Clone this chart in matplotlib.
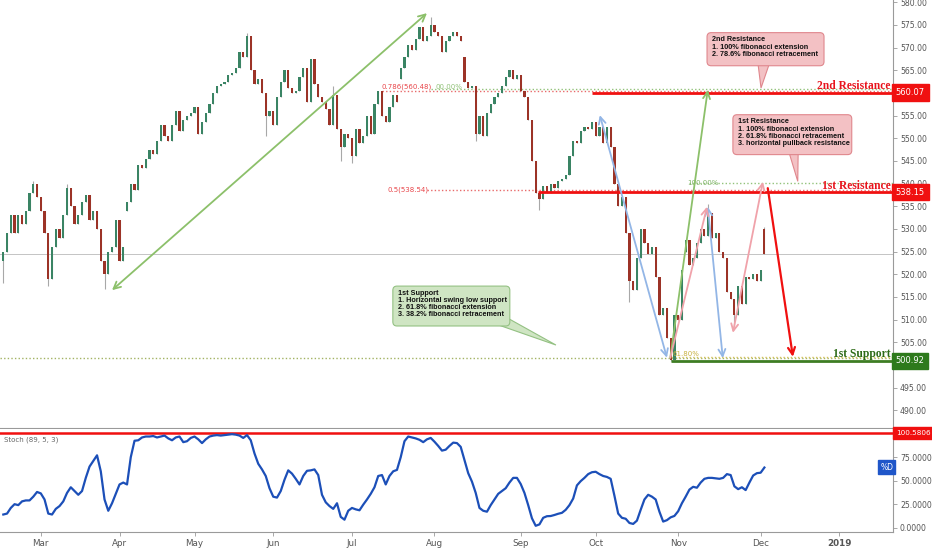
import matplotlib
matplotlib.use("Agg")
import matplotlib.pyplot as plt
from matplotlib.patches import FancyBboxPatch, Polygon
import numpy as np

# daily closes (bar index 0 = mid Feb 2018, last bar = 3 Dec 2018)
closes = [
    525, 529, 533, 529, 533, 531, 534, 538, 540, 537,
    534, 529, 519, 526, 530, 528, 533, 539, 535, 531,
    533, 536, 537.5, 532, 534, 530, 523, 520, 525, 526,
    532, 523, 526, 536, 540, 538.5, 544, 543.5, 545.5, 547.5,
    546.5, 549.5, 553, 550.5, 549.5, 553, 556, 551.5, 554, 555,
    555.5, 557, 551, 553.5, 555.5, 557.5, 560, 561.5, 562, 562.5,
    564, 564.5, 565.5, 569, 568, 572.5, 565, 562, 563, 560,
    555, 556, 553, 559, 562.5, 565, 561, 560, 560.5, 563.5,
    565.5, 558, 567.5, 562, 559, 558, 556.5, 553, 559.5, 552,
    548, 551, 550, 546, 552, 549, 550.5, 555, 551, 557.5,
    560.5, 555, 553.5, 557, 559.5, 558, 565.5, 568, 570.5, 569.5,
    572, 574.5, 571.5, 572.5, 575, 573.5, 572.5, 569, 571.5, 572.5,
    573.5, 572.5, 571.5, 562.5, 561, 561.5, 551, 555, 550.5, 555.5,
    557.5, 559, 560, 561.5, 563.5, 565, 563, 564, 560.5, 559,
    554, 545, 538, 536.5, 539.5, 538, 540, 539, 540.5, 541,
    542, 546, 549.5, 549, 551.5, 552.5, 552, 553.5, 550.5, 552.5,
    549, 552.5, 548, 540, 535, 537, 529, 518.5, 516.5, 523.5,
    530, 527, 524.5, 526, 519.5, 511, 512.5, 506, 501, 511,
    510, 521, 527.5, 522, 523.5, 527, 530, 528.5, 533.5, 528,
    529, 525, 523.5, 516, 514.5, 511, 517.5, 513.5, 519.5, 519,
    520, 518.5, 521, 524.5,
]

# Stoch(89, 5, 3) %D per bar
stoch_d = [
    14, 15, 21, 25, 24, 28, 29, 29, 33, 38,
    36.5, 30, 15, 14, 20, 23, 28, 37, 43, 39,
    35, 39, 53, 65, 71, 77, 60, 30, 18, 26,
    36, 46, 48, 46, 75, 92.5, 93, 96, 97, 97,
    97.5, 96, 97, 98, 95, 93, 96, 97, 91, 92,
    95.5, 97, 94, 90, 94, 97, 98, 98.5, 98, 98.5,
    99, 99.5, 99, 98, 95.5, 98.5, 93, 79, 68, 62,
    55, 42, 33, 32, 39, 51, 61, 57.5, 52, 46,
    55, 60.5, 61, 62, 56, 35, 27, 23, 20, 26,
    11.5, 8.5, 18, 21, 19.5, 18.5, 24.5, 30, 36, 43,
    55, 56, 46, 55, 60, 61.5, 75, 92, 97, 96,
    95, 93.5, 91, 94, 95.5, 91.5, 87, 82, 83, 87,
    90.5, 90, 86, 72, 58, 49, 37, 21, 18, 17,
    24, 30, 36, 39, 42, 48, 53, 53, 46.5, 37,
    24, 10, 2, 3.5, 10.5, 12.2, 12.4, 13.5, 14.8, 15.8,
    19, 24, 31, 45, 49.5, 53, 57, 59, 59.5, 57,
    55, 54, 52, 34, 15, 10.5, 9.5, 5, 4, 7.5,
    19, 30, 35, 33, 30, 17, 6.5, 8, 11, 12.5,
    17.5, 26, 33, 40.5, 43.5, 42.5, 48, 52, 53, 53,
    52.5, 52, 53, 57, 56, 44, 41, 43, 40, 48,
    55.5, 58, 58.5, 64,
]

# opens that gap away from the previous close
gap_opens = {0: 523.0, 33: 534.0, 106: 563.0, 123: 568.0, 182: 525.0, 203: 530.0}
# visible long wicks
wick_highs = {8: 540.5, 17: 540.0, 65: 573.3, 88: 561.5, 114: 576.8, 188: 535.5, 203: 530.5}
wick_lows = {0: 518.0, 12: 517.5, 27: 516.8, 70: 550.5, 90: 545.0, 93: 544.5,
             126: 549.5, 143: 534.2, 167: 514.0, 178: 500.9, 195: 508.5}

month_labels = ["Mar", "Apr", "May", "Jun", "Jul", "Aug", "Sep", "Oct", "Nov", "Dec", "2019"]
month_bars = [10, 31, 51, 72, 93, 115, 138, 158, 180, 202, 223]
price_ticks = list(range(490, 581, 5))
hidden_ticks = [500, 560]          # covered by the level tags
stoch_ticks = [0, 25, 50, 75]

# key levels
res_2, fib_786, ext_100_hi = 560.07, 560.48, 560.8
res_1, fib_50, ext_100_lo = 538.15, 538.54, 540.2
sup_1, fib_618 = 500.92, 501.5
stoch_max = 100.5806

# drawn arrows: (bar, price) -> (bar, price), style, colour
arrows = [
    ((29.0, 516.5), (113.0, 577.6), "<->", "#8cc06a"),
    ((177.9, 501.6), (187.9, 560.7), "->", "#8cc06a"),
    ((159.1, 555.1), (177.0, 501.6), "<->", "#93b6e6"),
    ((187.9, 534.9), (191.9, 501.5), "<->", "#93b6e6"),
    ((177.9, 501.6), (187.7, 534.9), "->", "#f0a2aa"),
    ((194.6, 507.1), (202.6, 540.4), "<->", "#f0a2aa"),
    ((203.9, 539.0), (210.6, 501.8), "->", "#f01010"),
]

GREEN, RED, WICK = "#3a8464", "#9c3327", "#a8a8a8"
GRID_TXT = "#555555"

fig = plt.figure(figsize=(9.32, 5.5), dpi=100)
ax = fig.add_axes([0, 1 - 428 / 550, 893 / 932, 428 / 550])
sx = fig.add_axes([0, 1 - 532 / 550, 893 / 932, 103 / 550], sharex=ax)

n = len(closes)
bars = np.arange(n)
opens = [gap_opens.get(i, closes[i - 1] if i else closes[0]) for i in range(n)]
tops = [max(o, c) for o, c in zip(opens, closes)]
bots = [min(o, c) for o, c in zip(opens, closes)]
highs = [max(wick_highs.get(i, t), t) for i, t in enumerate(tops)]
lows = [min(wick_lows.get(i, b), b) for i, b in enumerate(bots)]
colors = [GREEN if c >= o else RED for o, c in zip(opens, closes)]

ax.vlines(bars, lows, highs, color=WICK, lw=0.8, zorder=2)
ax.bar(bars, [max(t - b, 0.35) for t, b in zip(tops, bots)], bottom=bots,
       width=0.58, color=colors, linewidth=0, zorder=3)

ax.set_xlim(-0.88, 237.3)
ax.set_ylim(486.1, 580.5)

# last price line
ax.axhline(closes[-1], color="#c4c4c4", lw=0.7, zorder=1)

dot = (0, (1, 1.6))
# 2nd resistance
ax.hlines(fib_786, 101, 237.3, color="#e86a6a", lw=1, linestyle=dot, zorder=2)
ax.hlines(ext_100_hi, 114, 237.3, color="#92c27a", lw=1, linestyle=dot, zorder=2)
ax.hlines(res_2, 157, 237.3, color="#f01010", lw=2, zorder=4)
# 1st resistance
ax.hlines(fib_50, 113, 237.3, color="#e86a6a", lw=1, linestyle=dot, zorder=2)
ax.hlines(ext_100_lo, 183, 237.3, color="#92c27a", lw=1, linestyle=dot, zorder=2)
ax.hlines(res_1, 142.6, 237.3, color="#f01010", lw=2, zorder=4)
# 1st support
ax.hlines(fib_618, -0.88, 237.3, color="#a3b363", lw=1, linestyle=dot, zorder=2)
ax.hlines(fib_618 + 0.3, 178, 237.3, color="#d6c25a", lw=1, linestyle=dot, zorder=2)
ax.hlines(sup_1, 178, 237.3, color="#3e7d24", lw=2, zorder=4)

small = dict(fontsize=5, zorder=5)
ax.text(101, fib_786 + 0.2, "0.786(560.48)", color="#e8464a", va="bottom", **small)
ax.text(115.2, fib_786 + 0.2, "00.00%", color="#92c27a", va="bottom", **small)
ax.text(102.5, fib_50, "0.5(538.54)", color="#e8464a", va="center", **small)
ax.text(182.5, ext_100_lo, "100.00%", color="#7fb466", va="center", **small)
ax.text(178.5, fib_618 + 0.3, "61.80%", color="#c8b040", va="bottom", **small)

for (x0, y0), (x1, y1), style, col in arrows:
    ax.annotate("", xy=(x1, y1), xytext=(x0, y0),
                arrowprops=dict(arrowstyle=f"{style},head_length=0.5,head_width=0.25",
                                color=col, lw=1.6 if col == "#f01010" else 1.3,
                                shrinkA=0, shrinkB=0), zorder=6)

serif = dict(family=["Liberation Serif", "DejaVu Serif"], fontweight="bold", fontsize=8.3,
             ha="right", va="bottom", zorder=7)
ax.text(236.6, res_2 + 0.1, "2nd Resistance", color="#e8141c", **serif)
ax.text(236.6, res_1 + 0.1, "1st Resistance", color="#e8141c", **serif)
ax.text(236.6, sup_1 + 0.1, "1st Support", color="#2c6a16", **serif)


def callout(x0, x1, y0, y1, ptr, lines, fc, ec):
    ax.add_patch(Polygon(ptr, closed=True, fc=fc, ec=ec, lw=0.8, zorder=7))
    box = FancyBboxPatch((x0, y0), x1 - x0, y1 - y0,
                         boxstyle="round,pad=0,rounding_size=1.1",
                         mutation_aspect=0.83, fc=fc, ec=ec, lw=0.8, zorder=8)
    ax.add_patch(box)
    ax.text(x0 + 1.3, y1 - 0.8, "\n".join(lines), fontsize=5.2, fontweight="bold",
            family=["Liberation Sans", "DejaVu Sans"], color="#111111",
            va="top", ha="left", linespacing=1.05, zorder=9)


callout(187.7, 218.9, 566.0, 573.3,
        [(201.3, 566.4), (204.3, 566.4), (202.1, 561.1)],
        ["2nd Resistance", "1. 100% fibonacci extension", "2. 78.6% fibonacci retracement"],
        "#f3c1c4", "#e0878d")
callout(194.6, 226.3, 546.4, 555.2,
        [(209.6, 546.8), (212.0, 546.8), (211.9, 540.5)],
        ["1st Resistance", "1. 100% fibonacci extension", "2. 61.8% fibonacci retracement",
         "3. horizontal pullback resistance"],
        "#f3c1c4", "#e0878d")
callout(103.9, 135.1, 508.6, 517.4,
        [(131.8, 508.9), (134.6, 510.3), (147.4, 504.4)],
        ["1st Support", "1. Horizontal swing low support", "2. 61.8% fibonacci extension",
         "3. 38.2% fibonacci retracement"],
        "#cfe5c3", "#94c183")


def tag(axis, y, text, color, size=6):
    axis.annotate(text, xy=(1, y), xycoords=axis.get_yaxis_transform(),
                  xytext=(2.0, 0), textcoords="offset points", ha="left", va="center",
                  fontsize=size, color="white", annotation_clip=False, zorder=12,
                  bbox=dict(boxstyle="square,pad=0.45", fc=color, ec=color))


tag(ax, res_2, "560.07", "#f01010")
tag(ax, res_1, "538.15", "#f01010")
tag(ax, sup_1, "500.92", "#2e7a1c")

for a in (ax, sx):
    a.set_facecolor("white")
    a.yaxis.tick_right()
    a.spines["left"].set_visible(False)
    a.spines["top"].set_visible(False)
    a.spines["right"].set_color("#9a9a9a")
    a.spines["bottom"].set_color("#9a9a9a")
    a.tick_params(axis="y", length=3, width=0.6, color="#9a9a9a", labelcolor=GRID_TXT,
                  labelsize=5.6, pad=2)

ax.set_yticks(price_ticks)
ax.set_yticklabels(["" if v in hidden_ticks else f"{v:.2f}" for v in price_ticks])
ax.tick_params(axis="x", bottom=False, labelbottom=False)

# stochastic panel
sx.plot(bars, stoch_d, color="#1c4fb8", lw=1.6, zorder=3)
sx.axhline(stoch_max, color="#f01010", lw=1.8, zorder=2)
sx.set_ylim(-4.6, 105.0)
sx.set_yticks(stoch_ticks)
sx.set_yticklabels([f"{v:.4f}" for v in stoch_ticks])
sx.set_xticks(month_bars)
sx.set_xticklabels(month_labels)
sx.tick_params(axis="x", length=3, width=0.6, color="#9a9a9a", labelcolor=GRID_TXT,
               labelsize=6.3, pad=2)
for lbl in sx.get_xticklabels():
    if lbl.get_text() == "2019":
        lbl.set_fontweight("bold")
sx.text(0.004, 0.93, "Stoch (89, 5, 3)", transform=sx.transAxes, fontsize=5,
        color="#666666", va="top", ha="left")
tag(sx, stoch_max, "100.5806", "#f01010", size=5.2)
sx.text(235.6, 64.5, "%D", fontsize=5.5, color="white", ha="center", va="center",
        zorder=10, bbox=dict(boxstyle="square,pad=0.3", fc="#1f56c9", ec="#1f56c9"))

fig.savefig("out.png", dpi=100)
